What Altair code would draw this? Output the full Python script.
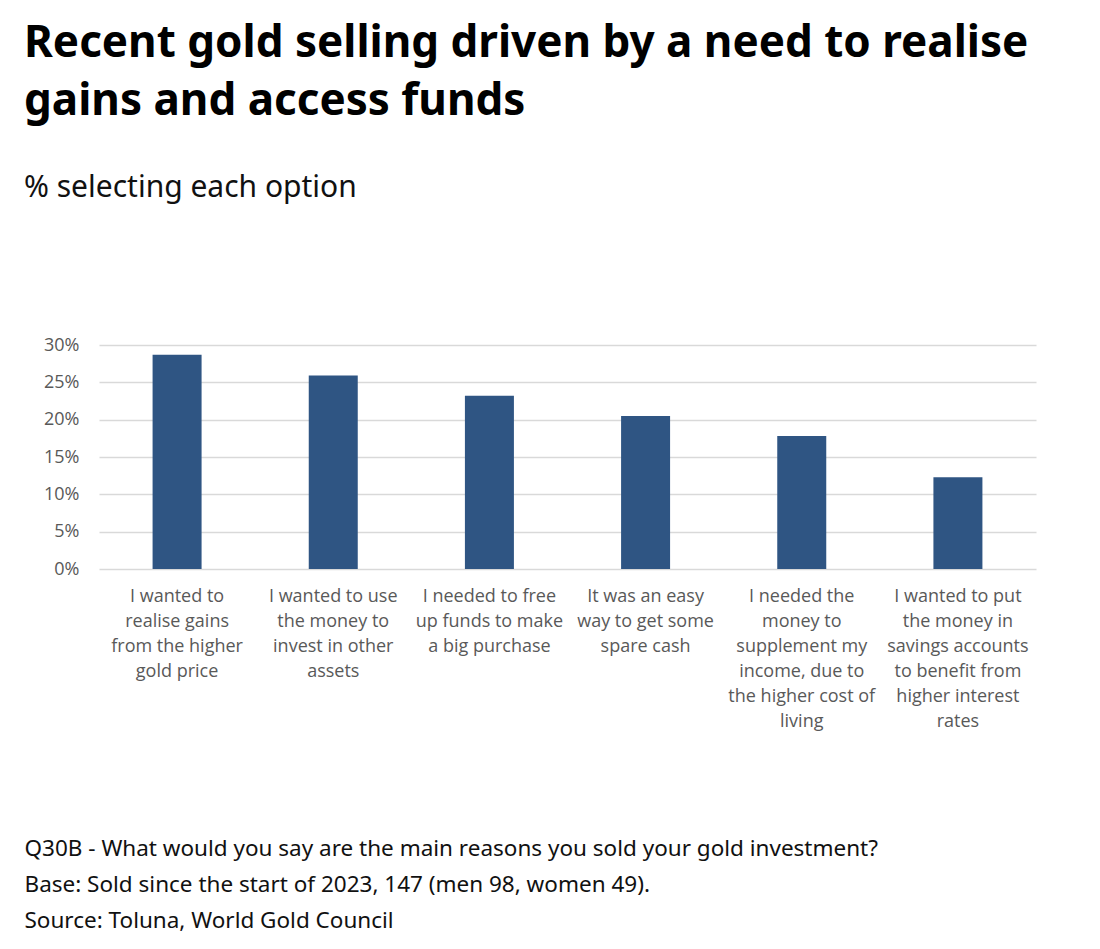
import altair as alt
import pandas as pd

categories = [
    "I wanted to|realise gains|from the higher|gold price",
    "I wanted to use|the money to|invest in other|assets",
    "I needed to free|up funds to make|a big purchase",
    "It was an easy|way to get some|spare cash",
    "I needed the|money to|supplement my|income, due to|the higher cost of|living",
    "I wanted to put|the money in|savings accounts|to benefit from|higher interest|rates",
]
values = [28.7, 25.9, 23.2, 20.5, 17.8, 12.3]
y_ticks = [0, 5, 10, 15, 20, 25, 30]

title_lines = ["Recent gold selling driven by a need to realise", "gains and access funds"]
subtitle = "% selecting each option"
footer_lines = [
    "Q30B - What would you say are the main reasons you sold your gold investment?",
    "Base: Sold since the start of 2023, 147 (men 98, women 49).",
    "Source: Toluna, World Gold Council",
]

df = pd.DataFrame({"reason": categories, "pct": values})

chart = alt.Chart(df).mark_bar(color="#2F5583", width=49).encode(
    x=alt.X(
        "reason:N",
        sort=None,
        scale=alt.Scale(paddingInner=0, paddingOuter=0),
        axis=alt.Axis(
            title=footer_lines,
            titleFont="Noto Sans",
            titleFontSize=22.5,
            titleFontWeight="normal",
            titleColor="#111111",
            titleAnchor="start",
            titleAlign="left",
            titleBaseline="top",
            titleLineHeight=36,
            titleX=-75,
            titleY=268,
            labelAngle=0,
            labelExpr="split(datum.label, '|')",
            labelFont="Open Sans",
            labelFontSize=18,
            labelColor="#595959",
            labelLineHeight=25,
            labelPadding=18,
            labelLimit=0,
            ticks=False,
            domain=False,
            grid=False,
        ),
    ),
    y=alt.Y(
        "pct:Q",
        scale=alt.Scale(domain=[0, 30]),
        axis=alt.Axis(
            title=None,
            values=y_ticks,
            labelExpr="datum.value + '%'",
            labelFont="Open Sans",
            labelFontSize=18,
            labelColor="#595959",
            labelPadding=20,
            ticks=False,
            domain=False,
            grid=True,
            gridColor="#D9D9D9",
            gridWidth=1.5,
        ),
    ),
).properties(
    width=937,
    height=224,
    background="white",
    padding={"left": 16, "top": 14, "right": 10, "bottom": 10},
    title=alt.TitleParams(
        text=title_lines,
        subtitle=subtitle,
        anchor="start",
        frame="bounds",
        font="Noto Sans",
        fontSize=44,
        fontWeight="bold",
        color="#000000",
        lineHeight=58,
        subtitleFont="Noto Sans",
        subtitleFontSize=30,
        subtitleColor="#111111",
        subtitlePadding=49,
        offset=133,
    ),
).configure_view(stroke=None)

chart.save("out.html", embed_options={"renderer": "svg", "actions": False})
